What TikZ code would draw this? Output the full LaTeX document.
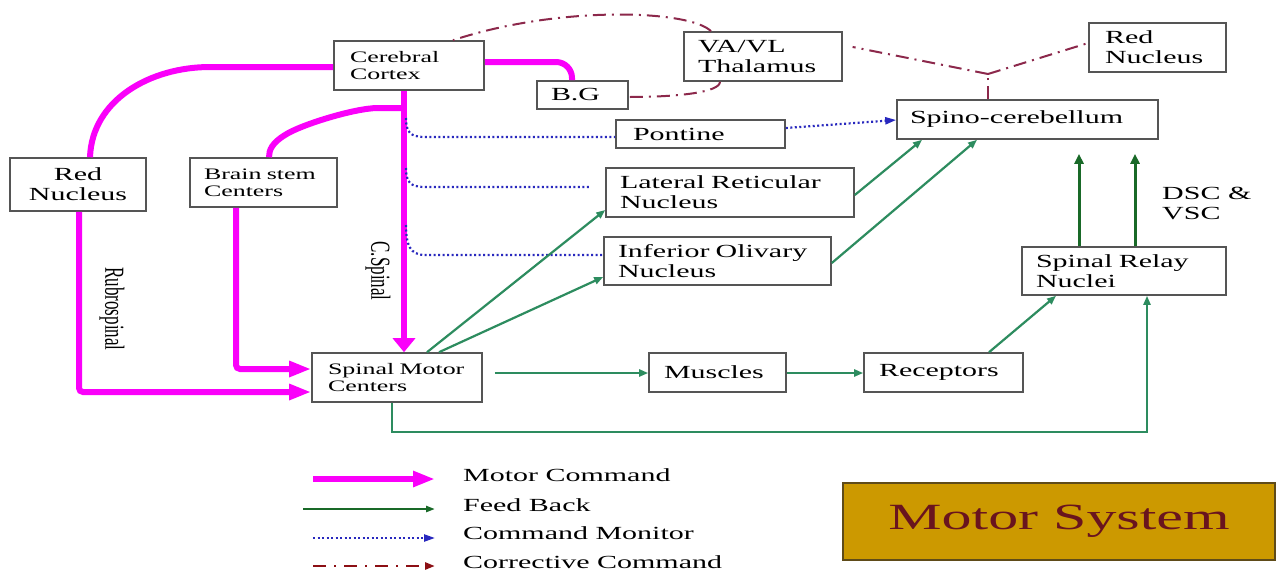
\documentclass[tikz,border=0pt]{standalone}
\usepackage{fontspec}
\setmainfont{Liberation Serif}[FakeStretch=1.62]
\newfontfamily\plainserif{Liberation Serif}
\usetikzlibrary{arrows.meta,calc}
\definecolor{pinkc}{RGB}{250,0,250}
\definecolor{fbc}{RGB}{45,140,95}
\definecolor{fbdark}{RGB}{25,105,40}
\definecolor{monc}{RGB}{40,40,190}
\definecolor{corc}{RGB}{140,40,75}
\definecolor{cordark}{RGB}{140,15,20}
\definecolor{boxc}{RGB}{85,85,85}
\definecolor{msfill}{RGB}{204,153,0}
\definecolor{mstext}{RGB}{105,20,30}
\definecolor{msborder}{RGB}{95,75,25}
\newcommand{\smallfs}{\fontsize{16}{17}\selectfont}
\newcommand{\largefs}{\fontsize{18.5}{20}\selectfont}
\newcommand{\rotfs}{\plainserif\fontsize{17}{18}\selectfont}
\begin{document}
\begin{tikzpicture}[x=1pt,y=-1pt,
  blk/.style={draw=boxc,line width=1.6pt,fill=white,inner xsep=14pt,inner ysep=0pt,align=left,font=\largefs},
  motor/.style={draw=pinkc,line width=6pt},
  motorh/.style={motor,-{Triangle[length=22pt,width=15pt]}},
  motorv/.style={motor,-{Triangle[length=14pt,width=22pt]}},
  fb/.style={draw=fbc,line width=2.2pt},
  fba/.style={fb,-{Triangle[length=9pt,width=7pt]}},
  fbv/.style={draw=fbdark,line width=3pt,-{Triangle[length=10pt,width=9pt]}},
  mon/.style={draw=monc,line width=2.2pt,dash pattern=on 2pt off 2.5pt},
  mona/.style={mon,-{Triangle[length=11pt,width=7pt]}},
  cor/.style={draw=corc,line width=2pt,dash pattern=on 13pt off 6pt on 2pt off 6pt},
  lbl/.style={inner sep=0pt,font=\largefs},
  rot/.style={transform shape,xscale=1.62,rotate=-90,inner sep=0pt,font=\rotfs}
]
\fill[white] (0,0) rectangle (1276,571);
\useasboundingbox (0,0) rectangle (1276,571);

% boxes
\node[blk,font=\smallfs,inner xsep=16pt,text width=118pt,minimum height=49pt] (cc) at (409,65.5) {\mbox{Cerebral}\\\mbox{Cortex}};
\node[blk,text width=63pt,minimum height=28pt] (bg) at (582.5,95) {\mbox{B.G}};
\node[blk,text width=130pt,minimum height=49pt] (va) at (763,56.5) {\mbox{VA/VL}\\\mbox{Thalamus}};
\node[blk,inner xsep=16pt,text width=105pt,minimum height=49pt] (rnr) at (1157.5,47.5) {\mbox{Red}\\\mbox{Nucleus}};
\node[blk,inner xsep=13pt,text width=235pt,minimum height=39pt] (sc) at (1027.5,119.5) {\mbox{Spino-cerebellum}};
\node[blk,inner xsep=17pt,text width=135pt,minimum height=28pt] (po) at (700.5,134) {\mbox{Pontine}};
\node[blk,text width=220pt,minimum height=49pt] (lr) at (730,192.5) {\mbox{Lateral Reticular}\\\mbox{Nucleus}};
\node[blk,text width=199pt,minimum height=48pt] (io) at (717.5,261) {\mbox{Inferior Olivary}\\\mbox{Nucleus}};
\node[blk,text width=176pt,minimum height=48pt] (sr) at (1124,271) {\mbox{Spinal Relay}\\\mbox{Nuclei}};
\node[blk,align=center,inner xsep=6pt,text width=124pt,minimum height=53pt] (rnl) at (78,184.5) {\mbox{Red}\\\mbox{Nucleus}};
\node[blk,font=\smallfs,text width=119pt,minimum height=49pt] (bs) at (263.5,182.5) {\mbox{Brain stem}\\\mbox{Centers}};
\node[blk,font=\smallfs,inner xsep=16pt,text width=138pt,minimum height=49pt] (sm) at (397,377.5) {\mbox{Spinal Motor}\\\mbox{Centers}};
\node[blk,inner xsep=15pt,text width=107pt,minimum height=39pt] (mu) at (717.5,372.5) {\mbox{Muscles}};
\node[blk,inner xsep=15pt,text width=129pt,minimum height=39pt] (re) at (943.5,372.5) {\mbox{Receptors}};
\node[draw=msborder,line width=1.6pt,fill=msfill,text=mstext,font=\fontsize{37}{40}\selectfont,minimum width=432pt,minimum height=77pt,inner sep=0pt] (ms) at (1059,521.5) {Motor System};

% labels
\node[lbl,anchor=west,align=left] (dsc) at (1162,203) {DSC \&\\VSC};
\begin{scope}[shift={(112,309)}]
  \node[rot] (rub) at (0,0) {Rubrospinal};
\end{scope}
\begin{scope}[shift={(378,271)}]
  \node[rot] (csp) at (0,0) {C.Spinal};
\end{scope}

% motor command (pink)
\coordinate (csb) at (404,108);
\draw[motor,line join=round] (cc.west |- 0,67) -- (210,67) .. controls (150,67) and (92,100) .. (rnl.north -| 90,0);
\draw[motorh,rounded corners=4pt] (rnl.south -| 79,0) |- (sm.west |- 0,392);
\draw[motor,line join=round] (csb) -- (378,108) .. controls (355,108) and (300,125) .. (285,135) .. controls (272,143) and (269,150) .. (bs.north -| 269,0);
\draw[motorh,rounded corners=4pt] (bs.south -| 236,0) |- (sm.west |- 0,369);
\draw[motorv] (cc.south -| 404,0) -- (sm.north -| 404,0);
\draw[motor,rounded corners=16pt] (cc.east |- 0,62) -| (bg.north -| 572,0);

% command monitor (blue dotted)
\coordinate (m1) at (406,118);
\coordinate (m2) at (406,168);
\coordinate (m3) at (406,225);
\draw[mon] (m1) .. controls (406,132) and (410,137) .. (425,137) -- (po.west |- 0,137);
\draw[mon,shorten >=14pt] (m2) .. controls (406,182) and (410,187) .. (425,187) -- (lr.west |- 0,187);
\draw[mon] (m3) .. controls (406,245) and (410,255) .. (425,255) -- (io.west |- 0,255);
\draw[mona] (po.east |- 0,128) -- (sc.west |- 0,120);

% feed back (green)
\draw[fba] (sm.north -| 427,0) -- (lr.west |- 0,210);
\draw[fba] (sm.north -| 439,0) -- (io.west |- 0,277);
\draw[fba,shorten <=12pt] (sm.east |- 0,373) -- (mu.west |- 0,373);
\draw[fba] (mu.east |- 0,373) -- (re.west |- 0,373);
\draw[fba] (re.north -| 989,0) -- (sr.south -| 1056,0);
\draw[fba] (sm.south -| 392,0) -- ++(0,29) -| (sr.south -| 1147,0);
\draw[fba] (lr.east |- 0,195) -- (sc.south -| 922,0);
\draw[fba] (io.east |- 0,263) -- (sc.south -| 977,0);
\draw[fbv,shorten >=14pt] (sr.north -| 1079,0) -- (sc.south -| 1079,0);
\draw[fbv,shorten >=14pt] (sr.north -| 1135,0) -- (sc.south -| 1135,0);

% corrective command (dash-dot)
\coordinate (J) at (988,74);
\draw[cor] (sc.north -| 988,0) -- (J);
\draw[cor,shorten >=10pt] (J) -- (va.east |- 0,45);
\draw[cor] (J) -- (rnr.west |- 0,43);
\draw[cor] (va.north -| 711,0) .. controls (690,10) and (560,5) .. (cc.north -| 453,0);
\draw[cor] (va.south -| 720,0) .. controls (720,92) and (680,97) .. (bg.east |- 0,97);

% legend
\coordinate (l1a) at (313,479); \coordinate (l1b) at (435,479);
\coordinate (l2a) at (303,509); \coordinate (l2b) at (435,509);
\coordinate (l3a) at (313,538); \coordinate (l3b) at (435,538);
\coordinate (l4a) at (313,566); \coordinate (l4b) at (435,566);
\draw[motorh] (l1a) -- (l1b);
\draw[draw=fbdark,line width=2.2pt,-{Triangle[length=9pt,width=6pt]}] (l2a) -- (l2b);
\draw[mona] (l3a) -- (l3b);
\draw[draw=cordark,line width=2.5pt,dash pattern=on 13pt off 8pt on 2pt off 8pt,-{Triangle[length=10pt,width=7pt]}] (l4a) -- (l4b);
\node[lbl,anchor=west] (t1) at (463,475) {Motor Command};
\node[lbl,anchor=west] (t2) at (463,505) {Feed Back};
\node[lbl,anchor=west] (t3) at (463,533) {Command Monitor};
\node[lbl,anchor=west] (t4) at (463,562) {Corrective Command};
\end{tikzpicture}
\end{document}
